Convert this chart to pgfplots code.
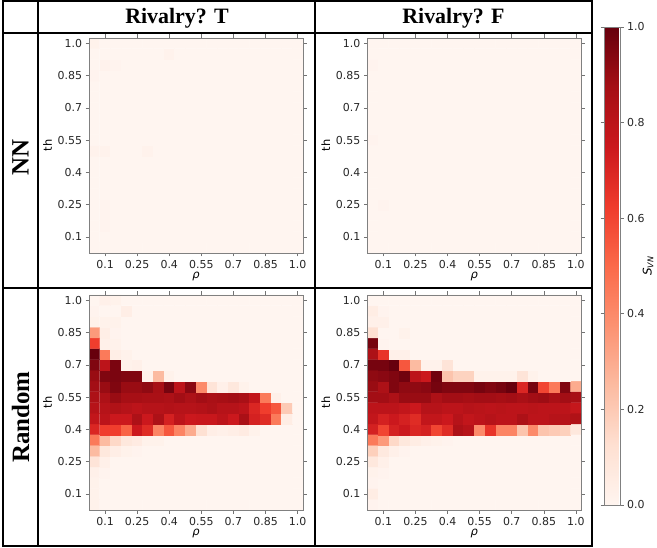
\documentclass[border=0pt]{standalone}
\usepackage{pgfplots}
\pgfplotsset{compat=1.18}
\usepackage{pgfplotstable}
\usepackage{fontspec}
\setmainfont{DejaVu Sans}
\newfontfamily\headfont{Liberation Serif}

% S_VN on a 20 x 20 grid (rho, th = 0.05 ... 1.0); one value per row,
% rows of the grid listed from th = 0.05 (first line) up to th = 1.0 (last line)
\pgfplotstableread[row sep=\\]{
z\\
0\\0\\0\\0\\0\\0\\0\\0\\0\\0\\0\\0\\0\\0\\0\\0\\0\\0\\0\\0\\
0\\0\\0\\0\\0\\0\\0\\0\\0\\0\\0\\0\\0\\0\\0\\0\\0\\0\\0\\0\\
0\\0.01\\0\\0\\0\\0\\0\\0\\0\\0\\0\\0\\0\\0\\0\\0\\0\\0\\0\\0\\
0\\0.01\\0\\0\\0\\0\\0\\0\\0\\0\\0\\0\\0\\0\\0\\0\\0\\0\\0\\0\\
0\\0.01\\0\\0\\0\\0\\0\\0\\0\\0\\0\\0\\0\\0\\0\\0\\0\\0\\0\\0\\
0\\0\\0\\0\\0\\0\\0\\0\\0\\0\\0\\0\\0\\0\\0\\0\\0\\0\\0\\0\\
0\\0\\0\\0\\0\\0\\0\\0\\0\\0\\0\\0\\0\\0\\0\\0\\0\\0\\0\\0\\
0\\0\\0\\0\\0\\0\\0\\0\\0\\0\\0\\0\\0\\0\\0\\0\\0\\0\\0\\0\\
0\\0\\0\\0\\0\\0\\0\\0\\0\\0\\0\\0\\0\\0\\0\\0\\0\\0\\0\\0\\
0.015\\0.015\\0\\0\\0\\0.015\\0\\0\\0\\0\\0\\0\\0\\0\\0\\0\\0\\0\\0\\0\\
0\\0\\0\\0\\0\\0\\0\\0\\0\\0\\0\\0\\0\\0\\0\\0\\0\\0\\0\\0\\
0\\0\\0\\0\\0\\0\\0\\0\\0\\0\\0\\0\\0\\0\\0\\0\\0\\0\\0\\0\\
0\\0\\0\\0\\0\\0\\0\\0\\0\\0\\0\\0\\0\\0\\0\\0\\0\\0\\0\\0\\
0\\0\\0\\0\\0\\0\\0\\0\\0\\0\\0\\0\\0\\0\\0\\0\\0\\0\\0\\0\\
0\\0\\0\\0\\0\\0\\0\\0\\0\\0\\0\\0\\0\\0\\0\\0\\0\\0\\0\\0\\
0\\0\\0\\0\\0\\0\\0\\0\\0\\0\\0\\0\\0\\0\\0\\0\\0\\0\\0\\0\\
0.01\\0\\0\\0\\0\\0\\0\\0\\0\\0\\0\\0\\0\\0\\0\\0\\0\\0\\0\\0\\
0\\0.015\\0.01\\0\\0\\0\\0\\0\\0\\0\\0\\0\\0\\0\\0\\0\\0\\0\\0\\0\\
0\\0\\0\\0\\0\\0\\0\\0.015\\0\\0\\0\\0\\0\\0\\0\\0\\0\\0\\0\\0\\
0.02\\0\\0\\0\\0\\0\\0\\0\\0\\0\\0\\0\\0\\0\\0\\0\\0\\0\\0\\0\\
}\nnT

\pgfplotstableread[row sep=\\]{
z\\
0\\0\\0\\0\\0\\0\\0\\0\\0\\0\\0\\0\\0\\0\\0\\0\\0\\0\\0\\0\\
0\\0\\0\\0\\0\\0\\0\\0\\0\\0\\0\\0\\0\\0\\0\\0\\0\\0\\0\\0\\
0\\0\\0\\0\\0\\0\\0\\0\\0\\0\\0\\0\\0\\0\\0\\0\\0\\0\\0\\0\\
0\\0\\0\\0\\0\\0\\0\\0\\0\\0\\0\\0\\0\\0\\0\\0\\0\\0\\0\\0\\
0\\0.01\\0\\0\\0\\0\\0\\0\\0\\0\\0\\0\\0\\0\\0\\0\\0\\0\\0\\0\\
0\\0\\0\\0\\0\\0\\0\\0\\0\\0\\0\\0\\0\\0\\0\\0\\0\\0\\0\\0\\
0\\0\\0\\0\\0\\0\\0\\0\\0\\0\\0\\0\\0\\0\\0\\0\\0\\0\\0\\0\\
0\\0\\0\\0\\0\\0\\0\\0\\0\\0\\0\\0\\0\\0\\0\\0\\0\\0\\0\\0\\
0\\0\\0\\0\\0\\0\\0\\0\\0\\0\\0\\0\\0\\0\\0\\0\\0\\0\\0\\0\\
0\\0\\0\\0\\0\\0\\0\\0\\0\\0\\0\\0\\0\\0\\0\\0\\0\\0\\0\\0\\
0.01\\0\\0\\0\\0\\0\\0\\0\\0\\0\\0\\0\\0\\0\\0\\0\\0\\0\\0\\0\\
0\\0\\0\\0\\0\\0\\0\\0\\0\\0\\0\\0\\0\\0\\0\\0\\0\\0\\0\\0\\
0\\0\\0\\0\\0\\0\\0\\0\\0\\0\\0\\0\\0\\0\\0\\0\\0\\0\\0\\0\\
0\\0\\0\\0\\0\\0\\0\\0\\0\\0\\0\\0\\0\\0\\0\\0\\0\\0\\0\\0\\
0\\0\\0\\0\\0\\0\\0\\0\\0\\0\\0\\0\\0\\0\\0\\0\\0\\0\\0\\0\\
0\\0\\0\\0\\0\\0\\0\\0\\0\\0\\0\\0\\0\\0\\0\\0\\0\\0\\0\\0\\
0\\0\\0\\0\\0\\0\\0\\0\\0\\0\\0\\0\\0\\0\\0\\0\\0\\0\\0\\0\\
0.01\\0\\0\\0\\0\\0\\0\\0\\0\\0\\0\\0\\0\\0\\0\\0\\0\\0\\0\\0\\
0\\0\\0\\0\\0\\0\\0\\0\\0\\0\\0\\0\\0\\0\\0\\0\\0\\0\\0\\0\\
0\\0\\0\\0\\0\\0\\0\\0\\0\\0\\0\\0\\0\\0\\0\\0\\0\\0\\0\\0\\
}\nnF

\pgfplotstableread[row sep=\\]{
z\\
0.02\\0\\0\\0\\0\\0\\0\\0\\0\\0\\0\\0\\0\\0\\0\\0\\0\\0\\0\\0\\
0.02\\0\\0\\0\\0\\0\\0\\0\\0\\0\\0\\0\\0\\0\\0\\0\\0\\0\\0\\0\\
0.02\\0\\0\\0\\0\\0\\0\\0\\0\\0\\0\\0\\0\\0\\0\\0\\0\\0\\0\\0\\
0.03\\0.01\\0\\0\\0\\0\\0\\0\\0\\0\\0\\0\\0\\0\\0\\0\\0\\0\\0\\0\\
0.10\\0.03\\0\\0\\0\\0\\0\\0\\0\\0\\0\\0\\0\\0\\0\\0\\0\\0\\0\\0\\
0.25\\0.08\\0.04\\0.02\\0.01\\0\\0\\0\\0\\0\\0\\0\\0\\0\\0\\0\\0\\0\\0\\0\\
0.45\\0.25\\0.15\\0.08\\0.06\\0.02\\0.02\\0\\0\\0\\0\\0\\0\\0\\0\\0\\0\\0\\0\\0\\
0.70\\0.62\\0.62\\0.52\\0.75\\0.68\\0.42\\0.55\\0.42\\0.30\\0.12\\0.04\\0.03\\0.04\\0.06\\0.02\\0\\0\\0\\0\\
0.78\\0.80\\0.75\\0.75\\0.85\\0.75\\0.85\\0.72\\0.80\\0.75\\0.76\\0.76\\0.80\\0.75\\0.86\\0.72\\0.68\\0.45\\0.05\\0\\
0.82\\0.82\\0.84\\0.82\\0.80\\0.82\\0.82\\0.83\\0.82\\0.82\\0.83\\0.85\\0.82\\0.82\\0.80\\0.70\\0.62\\0.55\\0.20\\0\\
0.85\\0.85\\0.90\\0.87\\0.87\\0.86\\0.86\\0.85\\0.88\\0.85\\0.88\\0.86\\0.87\\0.88\\0.86\\0.78\\0.45\\0.03\\0\\0\\
0.88\\0.90\\0.95\\0.90\\0.90\\0.92\\0.87\\0.97\\0.80\\0.93\\0.40\\0.10\\0.03\\0.08\\0.02\\0\\0\\0\\0\\0\\
0.90\\0.95\\0.96\\0.95\\0.95\\0.02\\0.25\\0.02\\0\\0\\0\\0\\0\\0\\0\\0\\0\\0\\0\\0\\
0.95\\0.80\\0.96\\0.02\\0.03\\0\\0\\0\\0\\0\\0\\0\\0\\0\\0\\0\\0\\0\\0\\0\\
1.00\\0.45\\0.04\\0.02\\0\\0\\0\\0\\0\\0\\0\\0\\0\\0\\0\\0\\0\\0\\0\\0\\
0.62\\0.03\\0.02\\0\\0\\0\\0\\0\\0\\0\\0\\0\\0\\0\\0\\0\\0\\0\\0\\0\\
0.35\\0.04\\0.01\\0\\0\\0\\0\\0\\0\\0\\0\\0\\0\\0\\0\\0\\0\\0\\0\\0\\
0.02\\0.02\\0.02\\0\\0\\0\\0\\0\\0\\0\\0\\0\\0\\0\\0\\0\\0\\0\\0\\0\\
0.01\\0\\0\\0.04\\0\\0\\0\\0\\0\\0\\0\\0\\0\\0\\0\\0\\0\\0\\0\\0\\
0\\0.03\\0.02\\0\\0\\0\\0\\0\\0\\0\\0\\0\\0\\0\\0\\0\\0\\0\\0\\0\\
}\rndT

\pgfplotstableread[row sep=\\]{
z\\
0.01\\0\\0\\0\\0\\0\\0\\0\\0\\0\\0\\0\\0\\0\\0\\0\\0\\0\\0\\0\\
0.05\\0\\0\\0\\0\\0\\0\\0\\0\\0\\0\\0\\0\\0\\0\\0\\0\\0\\0\\0\\
0.01\\0\\0\\0\\0\\0\\0\\0\\0\\0\\0\\0\\0\\0\\0\\0\\0\\0\\0\\0\\
0.02\\0.01\\0\\0\\0\\0\\0\\0\\0\\0\\0\\0\\0\\0\\0\\0\\0\\0\\0\\0\\
0.08\\0.03\\0\\0\\0\\0\\0\\0\\0\\0\\0\\0\\0\\0\\0\\0\\0\\0\\0\\0\\
0.18\\0.07\\0.03\\0.01\\0\\0\\0\\0\\0\\0\\0\\0\\0\\0\\0\\0\\0\\0\\0\\0\\
0.45\\0.35\\0.15\\0.08\\0.05\\0.03\\0.02\\0.01\\0\\0\\0\\0\\0\\0\\0\\0\\0\\0\\0\\0\\
0.72\\0.60\\0.72\\0.75\\0.70\\0.72\\0.60\\0.68\\0.85\\0.82\\0.40\\0.65\\0.42\\0.42\\0.22\\0.40\\0.22\\0.20\\0.18\\0.08\\
0.78\\0.72\\0.75\\0.72\\0.68\\0.78\\0.78\\0.75\\0.82\\0.78\\0.80\\0.82\\0.80\\0.80\\0.85\\0.80\\0.80\\0.82\\0.82\\0.84\\
0.80\\0.80\\0.80\\0.78\\0.75\\0.82\\0.82\\0.80\\0.80\\0.82\\0.81\\0.80\\0.81\\0.80\\0.80\\0.81\\0.80\\0.80\\0.80\\0.77\\
0.88\\0.88\\0.85\\0.90\\0.90\\0.90\\0.85\\0.88\\0.88\\0.87\\0.88\\0.88\\0.87\\0.88\\0.86\\0.88\\0.89\\0.86\\0.88\\0.87\\
0.90\\0.85\\0.95\\0.92\\0.92\\0.93\\0.97\\0.95\\0.95\\0.95\\0.97\\0.95\\0.97\\1.00\\0.70\\0.97\\0.60\\0.45\\0.95\\0.30\\
0.92\\0.93\\0.95\\0.98\\0.80\\0.75\\0.98\\0.22\\0.17\\0.17\\0.02\\0.02\\0.02\\0.02\\0.10\\0.02\\0\\0\\0\\0\\
0.97\\0.97\\1.00\\0.55\\0.25\\0.02\\0.02\\0.10\\0\\0\\0\\0\\0\\0\\0\\0\\0\\0\\0\\0\\
0.85\\0.65\\0.03\\0.03\\0\\0\\0\\0\\0\\0\\0\\0\\0\\0\\0\\0\\0\\0\\0\\0\\
0.97\\0.01\\0\\0\\0\\0\\0\\0\\0\\0\\0\\0\\0\\0\\0\\0\\0\\0\\0\\0\\
0.12\\0\\0\\0.02\\0\\0\\0\\0\\0\\0\\0\\0\\0\\0\\0\\0\\0\\0\\0\\0\\
0.03\\0.03\\0\\0\\0\\0\\0\\0\\0\\0\\0\\0\\0\\0\\0\\0\\0\\0\\0\\0\\
0.05\\0.01\\0\\0\\0\\0\\0\\0\\0\\0\\0\\0\\0\\0\\0\\0\\0\\0\\0\\0\\
0\\0\\0\\0\\0\\0\\0\\0\\0\\0\\0\\0\\0\\0\\0\\0\\0\\0\\0\\0\\
}\rndF

\pgfplotsset{
  colormap={reds}{rgb255(0cm)=(255,245,240) rgb255(1cm)=(254,224,210)
    rgb255(2cm)=(252,187,161) rgb255(3cm)=(252,146,114) rgb255(4cm)=(251,106,74)
    rgb255(5cm)=(239,59,44) rgb255(6cm)=(203,24,29) rgb255(7cm)=(165,15,21)
    rgb255(8cm)=(103,0,13)},
  heat/.style={
    scale only axis, width=214bp, height=215bp,
    xmin=0.025, xmax=1.025, ymin=0.025, ymax=1.025,
    colormap name=reds, point meta min=0, point meta max=1,
    xtick={0.1,0.25,0.4,0.55,0.7,0.85,1.0},
    xticklabels={0.1,0.25,0.4,0.55,0.7,0.85,1.0},
    ytick={0.1,0.25,0.4,0.55,0.7,0.85,1.0},
    yticklabels={0.1,0.25,0.4,0.55,0.7,0.85,1.0},
    tick align=outside, major tick length=3.5bp,
    tick style={black!55, line width=0.6bp},
    axis line style={black!50, line width=0.8bp},
    tick label style={font=\fontsize{11}{13}\selectfont, text=black!85},
    xlabel={\textit{ρ}}, ylabel={th},
    label style={font=\fontsize{11.5}{13}\selectfont},
    xlabel style={at={(axis description cs:0.5,-0.107)}, anchor=center},
    ylabel style={at={(axis description cs:-0.194,0.5)}, anchor=center},
    axis on top,
  },
}
% grid position of the n-th value: column n mod 20, row n div 20
% (the +0.5 keeps floor() safe from rounding)
\newcommand{\heatmap}[1]{%
  \addplot[matrix plot*, mesh/cols=20, mesh/rows=20, point meta=explicit]
    table[x index=0, y index=0, meta index=0,
          x expr={0.05*(\coordindex-20*floor((\coordindex+0.5)/20))+0.05},
          y expr={0.05*floor((\coordindex+0.5)/20)+0.05}] #1;}

\begin{document}
\begin{tikzpicture}
\useasboundingbox (0,0) rectangle (657bp,548bp);

% frame of the panel table
\begin{scope}[line width=1.2bp]
\draw (3bp,2bp) rectangle (592bp,547bp);
\draw (3bp,515bp) -- (592bp,515bp);
\draw (3bp,260bp) -- (592bp,260bp);
\draw (38bp,2bp) -- (38bp,547bp);
\draw (315bp,2bp) -- (315bp,547bp);
\end{scope}

\node[font=\headfont\bfseries\fontsize{22}{24}\selectfont] at (177bp,530bp) {Rivalry? T};
\node[font=\headfont\bfseries\fontsize{22}{24}\selectfont] at (453.5bp,530bp) {Rivalry? F};
\node[rotate=90, font=\headfont\bfseries\fontsize{25}{27}\selectfont] at (20.5bp,390bp) {NN};
\node[rotate=90, font=\headfont\bfseries\fontsize{25}{27}\selectfont] at (20.5bp,131bp) {Random};

\begin{axis}[heat, at={(89bp,295bp)}, anchor=south west]
\heatmap{\nnT}
\end{axis}

\begin{axis}[heat, at={(367.3bp,295bp)}, anchor=south west]
\heatmap{\nnF}
\end{axis}

\begin{axis}[heat, at={(89bp,38bp)}, anchor=south west]
\heatmap{\rndT}
\end{axis}

\begin{axis}[heat, at={(367.3bp,38bp)}, anchor=south west,
  colorbar,
  colorbar style={
    at={(parent axis.south east)}, anchor=south west,
    xshift=14.3bp, yshift=5bp,
    scale only axis, width=16bp, height=478bp,
    ytick={0,0.2,0.4,0.6,0.8,1},
    yticklabels={0.0,0.2,0.4,0.6,0.8,1.0},
    yticklabel pos=right,
    tick align=outside, major tick length=3.5bp,
    tick style={black!55, line width=0.6bp},
    axis line style={black!50, line width=0.6bp},
    tick label style={font=\fontsize{11}{13}\selectfont, text=black!85},
    ylabel={\textit{S}\textsubscript{\textit{VN}}},
    ylabel style={at={(axis description cs:2.75,0.5)}, anchor=center,
      font=\fontsize{12}{14}\selectfont},
  }]
\heatmap{\rndF}
\end{axis}
\end{tikzpicture}
\end{document}
